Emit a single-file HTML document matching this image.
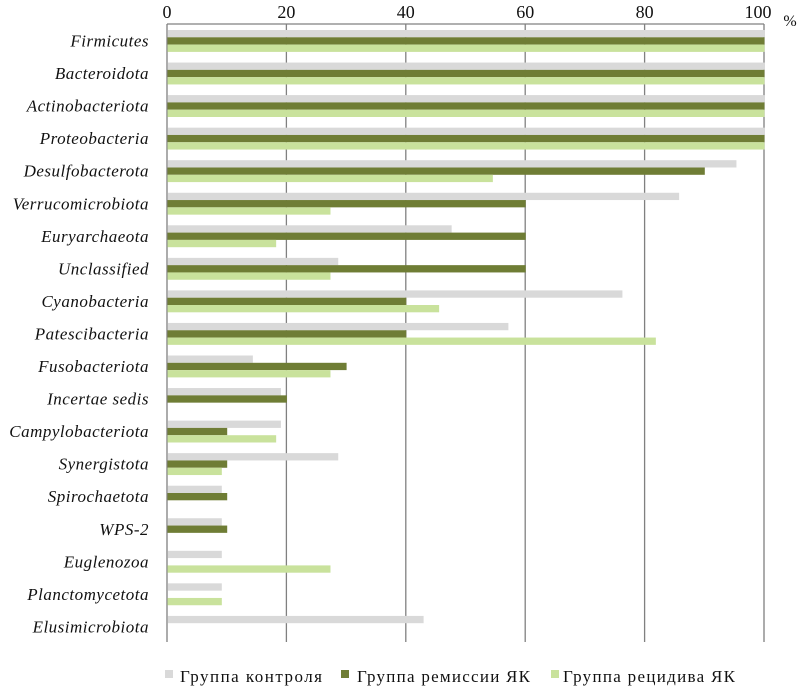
<!DOCTYPE html>
<html><head><meta charset="utf-8"><style>
html,body{margin:0;padding:0;background:#fff;}
svg{display:block;}
text{font-family:"Liberation Serif",serif;fill:#111;}
</style></head><body>
<svg width="800" height="690" xmlns="http://www.w3.org/2000/svg">
<g stroke="#808080" stroke-width="1.3">
<line x1="167" y1="24" x2="764" y2="24"/>
<line x1="167" y1="24" x2="167" y2="642"/>
<line x1="286.4" y1="24" x2="286.4" y2="642"/>
<line x1="405.8" y1="24" x2="405.8" y2="642"/>
<line x1="525.2" y1="24" x2="525.2" y2="642"/>
<line x1="644.6" y1="24" x2="644.6" y2="642"/>
<line x1="764" y1="24" x2="764" y2="642"/>
</g>
<g font-size="18" text-anchor="middle">
<text x="167" y="18">0</text><text x="286.4" y="18">20</text><text x="405.8" y="18">40</text><text x="525.2" y="18">60</text><text x="644.6" y="18">80</text><text x="758" y="18">100</text>
<text x="790" y="26" font-size="16">%</text>
</g>
<g id="bars"></g>
<g id="labels" font-size="17" font-style="italic" text-anchor="end" letter-spacing="0.5"></g>
<rect x="165" y="670" width="8" height="8" fill="#d9d9d9"/>
<text x="180" y="682" font-size="17" textLength="142" lengthAdjust="spacing">Группа контроля</text>
<rect x="341" y="670" width="8" height="8" fill="#6f7d35"/>
<text x="357" y="682" font-size="17" textLength="173" lengthAdjust="spacing">Группа ремиссии ЯК</text>
<rect x="551" y="670" width="8" height="8" fill="#c9e29c"/>
<text x="563" y="682" font-size="17" textLength="172" lengthAdjust="spacing">Группа рецидива ЯК</text>
<script>
var d=[["Firmicutes",100,100,100],["Bacteroidota",100,100,100],["Actinobacteriota",100,100,100],["Proteobacteria",100,100,100],["Desulfobacterota",95.3,90,54.5],["Verrucomicrobiota",85.7,60,27.3],["Euryarchaeota",47.6,60,18.2],["Unclassified",28.6,60,27.3],["Cyanobacteria",76.2,40,45.5],["Patescibacteria",57.1,40,81.8],["Fusobacteriota",14.3,30,27.3],["Incertae sedis",19,20,0],["Campylobacteriota",19,10,18.2],["Synergistota",28.6,10,9.1],["Spirochaetota",9.1,10,0],["WPS-2",9.1,10,0],["Euglenozoa",9.1,0,27.3],["Planctomycetota",9.1,0,9.1],["Elusimicrobiota",42.9,0,0]];
var ns="http://www.w3.org/2000/svg",b=document.getElementById("bars"),l=document.getElementById("labels"),c=["#d9d9d9","#6f7d35","#c9e29c"];
d.forEach(function(r,i){var y=30+32.55*i;for(var k=0;k<3;k++){if(!r[k+1])continue;var e=document.createElementNS(ns,"rect");e.setAttribute("x",167.5);e.setAttribute("y",y+k*7.3);e.setAttribute("width",r[k+1]*5.97);e.setAttribute("height",7.3);e.setAttribute("fill",c[k]);b.appendChild(e);}
var t=document.createElementNS(ns,"text");t.setAttribute("x",149);t.setAttribute("y",y+16.5);t.textContent=r[0];l.appendChild(t);});
</script>
</svg>
</body></html>
